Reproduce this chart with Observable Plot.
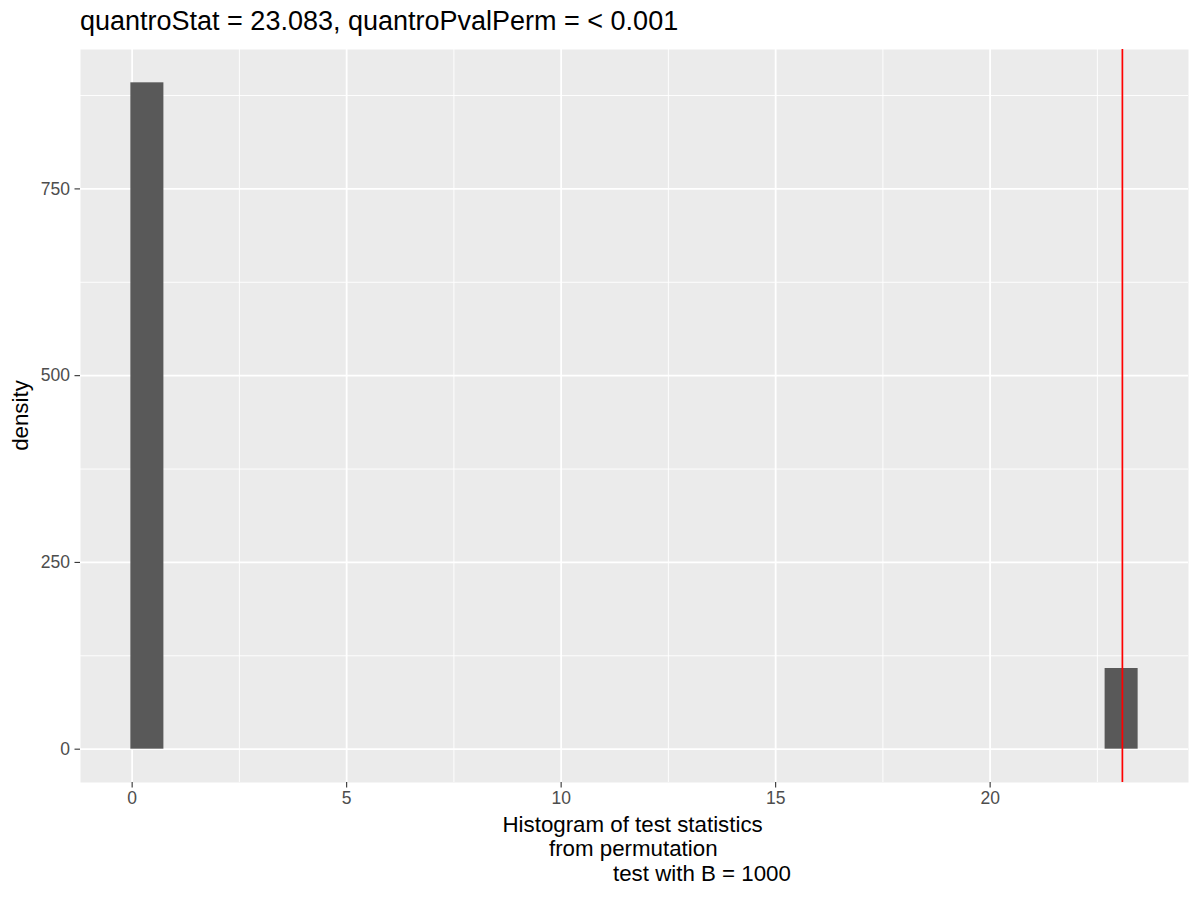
<!DOCTYPE html>
<html>
<head>
<meta charset="utf-8">
<script src="https://cdn.jsdelivr.net/npm/d3@7"></script>
<script src="https://cdn.jsdelivr.net/npm/@observablehq/plot@0.6"></script>
<style>
  html, body { margin: 0; padding: 0; background: #fff; }
  #chart svg { display: block; }
</style>
</head>
<body>
<div id="chart"></div>
<script>
// Histogram of permutation test statistics (ggplot2 look), with the observed
// quantro statistic marked in red.

const binStart = [-0.03, 22.68];
const binEnd = [0.74, 23.45];
const density = [892, 108];
const quantroStat = 23.083;

const xTicks = [0, 5, 10, 15, 20];
const xMinor = [2.5, 7.5, 12.5, 17.5, 22.5];
const yTicks = [0, 250, 500, 750];
const yMinor = [125, 375, 625, 875];

const titleText = "quantroStat = 23.083, quantroPvalPerm = < 0.001";
const yLabel = "density";
const xLabelLines = ["Histogram of test statistics", "from permutation", "test with B = 1000"];

const FONT = "'Liberation Sans', Arial, Helvetica, sans-serif";
const PANEL = "#EBEBEB";
const BAR = "#595959";

const bins = binStart.map((x1, i) => ({ x1, x2: binEnd[i], density: density[i] }));

// ggplot-style 5% expansion of the data extent
function expand([lo, hi]) {
  const pad = (hi - lo) * 0.05;
  return [lo - pad, hi + pad];
}
const xDomain = expand([d3.min(binStart), d3.max(binEnd)]);
const yDomain = expand([0, d3.max(density)]);

const plot = Plot.plot({
  width: 1200,
  height: 900,
  marginLeft: 80,
  marginRight: 12,
  marginTop: 49,
  marginBottom: 118,
  style: { fontFamily: FONT, background: "white" },
  x: { domain: xDomain, label: null },
  y: { domain: yDomain, label: null },
  marks: [
    Plot.frame({ fill: PANEL, stroke: "none" }),
    Plot.ruleX(xMinor, { stroke: "white", strokeWidth: 0.9 }),
    Plot.ruleY(yMinor, { stroke: "white", strokeWidth: 0.9 }),
    Plot.ruleX(xTicks, { stroke: "white", strokeWidth: 1.8 }),
    Plot.ruleY(yTicks, { stroke: "white", strokeWidth: 1.8 }),
    Plot.rectY(bins, { x1: "x1", x2: "x2", y: "density", fill: BAR }),
    Plot.ruleX([quantroStat], { stroke: "red", strokeWidth: 1.7 }),
    Plot.axisX({
      ticks: xTicks, tickSize: 5.5, tickPadding: 4, fontSize: 17.5,
      fill: "#4D4D4D", stroke: "#333333", strokeWidth: 1.1, label: null,
    }),
    Plot.axisY({
      ticks: yTicks, tickSize: 5.5, tickPadding: 5, fontSize: 17.5,
      fill: "#4D4D4D", stroke: "#333333", strokeWidth: 1.1, label: null,
    }),
  ],
});

const svg = d3.select(plot);

svg.append("text")
  .attr("x", 80).attr("y", 30)
  .attr("text-anchor", "start")
  .attr("font-family", FONT).attr("font-size", 27).attr("fill", "black")
  .text(titleText);

svg.append("text")
  .attr("transform", "translate(28,415.5) rotate(-90)")
  .attr("text-anchor", "middle")
  .attr("font-family", FONT).attr("font-size", 22.3).attr("fill", "black")
  .text(yLabel);

const xLabelX = [502.5, 549, 613];
const xLabelY = [831.7, 856, 880.7];
xLabelLines.forEach((line, i) => {
  svg.append("text")
    .attr("x", xLabelX[i]).attr("y", xLabelY[i])
    .attr("text-anchor", "start")
    .attr("font-family", FONT).attr("font-size", 22.3).attr("fill", "black")
    .text(line);
});

document.getElementById("chart").appendChild(plot);
</script>
</body>
</html>
